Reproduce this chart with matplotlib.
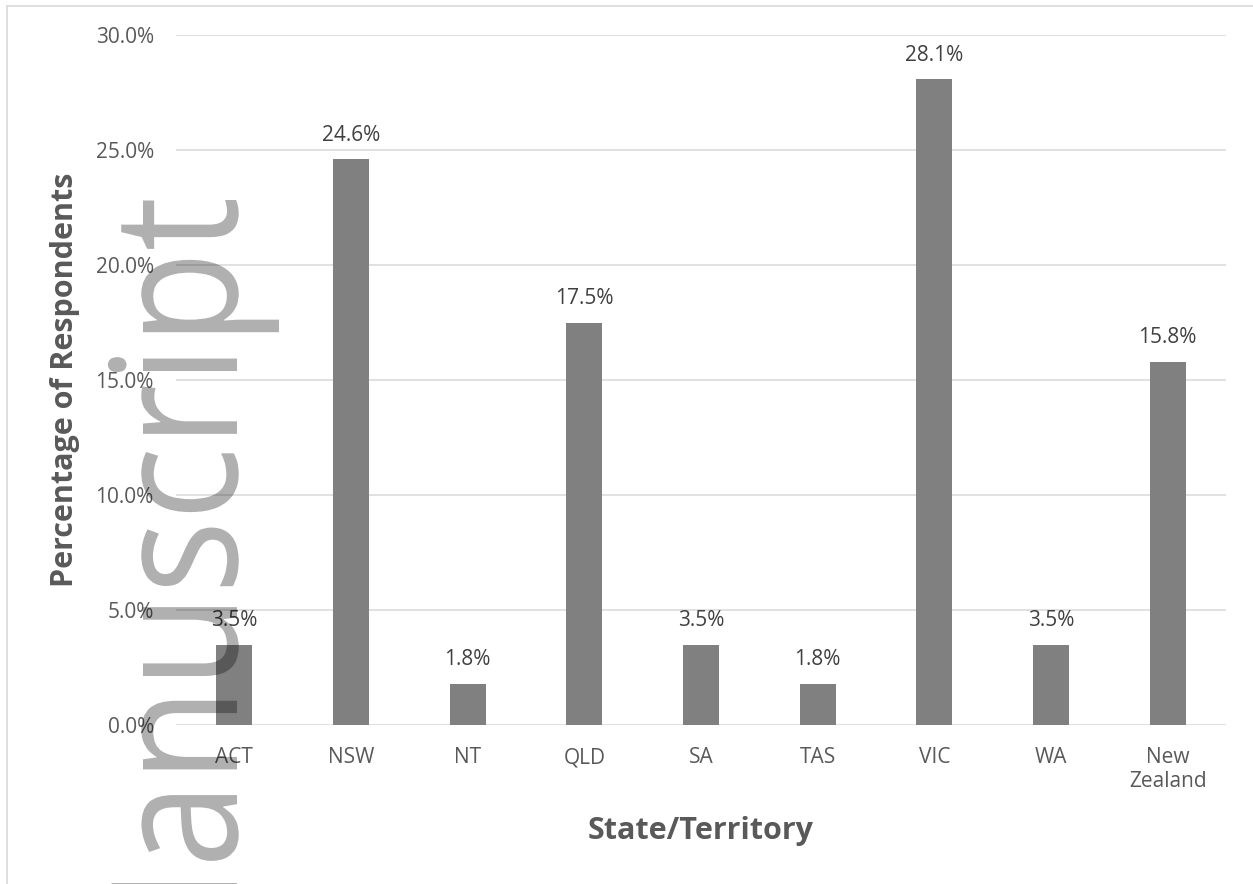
import numpy as np
import matplotlib
matplotlib.use('Agg')
import matplotlib.pyplot as plt
from matplotlib.textpath import TextPath
from matplotlib.patches import PathPatch
from matplotlib.font_manager import FontProperties
from matplotlib.transforms import Affine2D
from matplotlib.lines import Line2D

plt.rcParams['font.family'] = ['Open Sans', 'DejaVu Sans']

states = ['ACT', 'NSW', 'NT', 'QLD', 'SA', 'TAS', 'VIC', 'WA', 'New\nZealand']
share = [3.5, 24.6, 1.8, 17.5, 3.5, 1.8, 28.1, 3.5, 15.8]   # percent of respondents
yticks = [0, 5, 10, 15, 20, 25, 30]

W, H = 1253, 884
fig = plt.figure(figsize=(W / 100, H / 100), dpi=100)
ax = fig.add_axes([176 / W, 1 - 725 / H, 1050 / W, 690 / H])

x = np.arange(len(states))
ax.bar(x, share, width=0.31, color='#808080', zorder=2)
for xi, v in zip(x, share):
    ax.annotate('%.1f%%' % v, (xi, v), xytext=(0, 17), textcoords='offset points',
                ha='center', va='center', fontsize=15, color='#404040')

ax.set_xlim(-0.5, len(states) - 0.5)
ax.set_ylim(0, 30)
ax.set_yticks(yticks)
ax.set_yticklabels(['%.1f%%' % t for t in yticks])
ax.set_xticks(x)
ax.set_xticklabels(states)
ax.tick_params(axis='both', length=0, labelsize=15, labelcolor='#595959')
ax.tick_params(axis='y', pad=16)
ax.tick_params(axis='x', pad=16)
ax.grid(axis='y', color='#D9D9D9', lw=1.1, zorder=0)
for s in ax.spines.values():
    s.set_visible(False)

fig.text(65 / W, 1 - 380 / H, 'Percentage of Respondents', rotation=90, ha='center', va='center',
         fontsize=22, fontweight='bold', color='#595959')
fig.text(701 / W, 1 - 831 / H, 'State/Territory', ha='center', va='center',
         fontsize=22, fontweight='bold', color='#595959')

# chart frame (partly cut off)
fig.add_artist(Line2D([7 / W, 7 / W], [0, 1 - 6 / H], color='#D9D9D9', lw=1.2))
fig.add_artist(Line2D([7 / W, 1], [1 - 6 / H, 1 - 6 / H], color='#D9D9D9', lw=1.2))

# watermark
fp = FontProperties(family='Open Sans')
word = TextPath((0, 0), 'Manuscript', size=1, prop=fp)
m_right = TextPath((0, 0), 'M', size=1, prop=fp).get_extents().x1
t_end = word.get_extents().x1
xh = TextPath((0, 0), 'x', size=1, prop=fp).get_extents().y1
sa = (883 - 200) / (t_end - m_right)
su = 94 / xh
tr = Affine2D(np.array([[0, -su, 237], [sa, 0, 1 - m_right * sa], [0, 0, 1]]))
wm = PathPatch(word, transform=tr, facecolor='black', edgecolor='none', alpha=0.31, zorder=10)
fig.add_artist(wm)

fig.savefig('out.png', dpi=100)
